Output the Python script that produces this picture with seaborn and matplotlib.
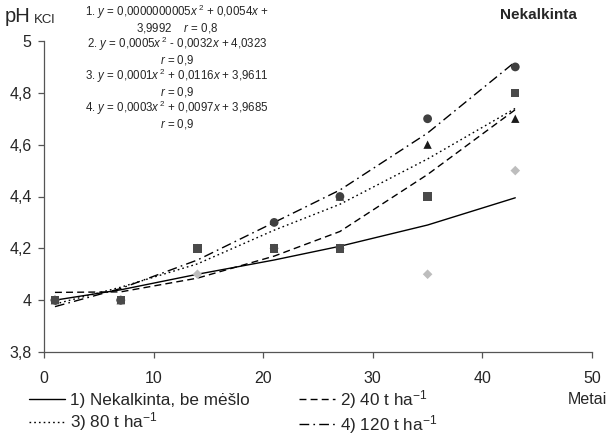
import matplotlib
matplotlib.use("Agg")
import matplotlib.pyplot as plt
import seaborn as sns
import pandas as pd

sns.set_style("ticks")
plt.rcParams['font.family'] = ['Liberation Sans', 'DejaVu Sans']
plt.rcParams['mathtext.fontset'] = 'custom'
plt.rcParams['mathtext.rm'] = 'Liberation Sans'
plt.rcParams['mathtext.it'] = 'Liberation Sans:italic'

# ---- data ----
years = [1, 7, 14, 21, 27, 35, 43]
obs_1 = [4.0, 4.0, 4.1, 4.2, 4.2, 4.1, 4.5]   # diamond
obs_2 = [4.0, 4.0, 4.2, 4.2, 4.2, 4.4, 4.8]   # square
obs_3 = [4.0, 4.0, 4.2, 4.2, 4.4, 4.6, 4.7]   # triangle
obs_4 = [4.0, 4.0, 4.2, 4.3, 4.4, 4.7, 4.9]   # circle

trend_1 = [4.0, 4.04, 4.10, 4.155, 4.208, 4.29, 4.395]
trend_2 = [4.03, 4.032, 4.085, 4.17, 4.265, 4.485, 4.735]
trend_3 = [3.985, 4.05, 4.14, 4.27, 4.37, 4.545, 4.74]
trend_4 = [3.975, 4.045, 4.155, 4.30, 4.425, 4.645, 4.92]

labels = ["1) Nekalkinta, be mėšlo", "2) 40 t ha$^{-1}$",
          "3) 80 t ha$^{-1}$", "4) 120 t ha$^{-1}$"]
y_ticks = [3.8, 4.0, 4.2, 4.4, 4.6, 4.8, 5.0]
y_tick_labels = ["3,8", "4", "4,2", "4,4", "4,6", "4,8", "5"]
x_ticks = [0, 10, 20, 30, 40, 50]

equations = [
    "1. $\\it{y}$ = 0,0000000005$\\it{x}$$^{\\ 2}$ + 0,0054$\\it{x}$ +",
    "3,9992    $\\it{r}$ = 0,8",
    "2. $\\it{y}$ = 0,0005$\\it{x}$$^{\\ 2}$ - 0,0032$\\it{x}$ + 4,0323",
    "$\\it{r}$ = 0,9",
    "3. $\\it{y}$ = 0,0001$\\it{x}$$^{\\ 2}$ + 0,0116$\\it{x}$ + 3,9611",
    "$\\it{r}$ = 0,9",
    "4. $\\it{y}$ = 0,0003$\\it{x}$$^{\\ 2}$ + 0,0097$\\it{x}$ + 3,9685",
    "$\\it{r}$ = 0,9",
]

# ---- figure ----
fig = plt.figure(figsize=(6.08, 4.41), dpi=100)
ax = fig.add_axes([44/608, 1-352/441, (592-44)/608, (352-41)/441])

trends = [trend_1, trend_2, trend_3, trend_4]
styles = ['-', (0, (5, 3)), (0, (1.2, 2.2)), (0, (7, 3, 1.2, 3))]
for tr, ls, lab in zip(trends, styles, labels):
    df = pd.DataFrame({"x": years, "y": tr})
    sns.lineplot(data=df, x="x", y="y", ax=ax, color="black", lw=1.0,
                 linestyle=ls, label=lab, zorder=2)

obs = [(obs_1, 'D', '#bdbdbd', 24), (obs_3, '^', '#1a1a1a', 36),
       (obs_4, 'o', '#404040', 40), (obs_2, 's', '#4a4a4a', 36)]
for vals, m, c, s in obs:
    df = pd.DataFrame({"x": years, "y": vals})
    sns.scatterplot(data=df, x="x", y="y", ax=ax, marker=m, color=c, s=s,
                    edgecolor='none', zorder=3, legend=False)

ax.set_xlim(0, 50)
ax.set_ylim(3.8, 5.0)
ax.set_xticks(x_ticks)
ax.set_xticklabels([str(v) for v in x_ticks])
ax.set_yticks(y_ticks)
ax.set_yticklabels(y_tick_labels)
ax.set_xlabel("")
ax.set_ylabel("")
for sp in ['top', 'right']:
    ax.spines[sp].set_visible(False)
for sp in ['left', 'bottom']:
    ax.spines[sp].set_color('#555555')
    ax.spines[sp].set_linewidth(0.9)
ax.tick_params(axis='y', length=4, width=0.9, color='#555555', pad=5, labelsize=11.5)
ax.tick_params(axis='x', length=4, width=0.9, color='#555555', pad=9.5, labelsize=11.5)

h, l = ax.get_legend_handles_labels()
order = [0, 2, 1, 3]
ax.legend([h[i] for i in order], [l[i] for i in order], ncol=2, frameon=False,
          loc='upper left', bbox_to_anchor=(29/608, 1-388/441),
          bbox_transform=fig.transFigure, fontsize=12.3, handlelength=2.1,
          handletextpad=0.3, columnspacing=2.9, labelspacing=0.12,
          borderaxespad=0, borderpad=0)

fig.text(607/608, 1-399/441, "Metai", ha='right', va='center', fontsize=11.5)
fig.text(5/608, 1-17/441, "pH", ha='left', va='center', fontsize=14.5)
fig.text(34/608, 1-20/441, "KCl", ha='left', va='center', fontsize=9.5)
fig.text(577/608, 1-15/441, "Nekalkinta", ha='right', va='center',
         fontsize=11, fontweight='bold')

eq_y = [12, 28, 44, 60, 76, 92, 108, 124]
for yy, txt in zip(eq_y, equations):
    fig.text(177/608, 1-yy/441, txt, ha='center', va='center', fontsize=8.3)

fig.savefig("out.png", dpi=100)
